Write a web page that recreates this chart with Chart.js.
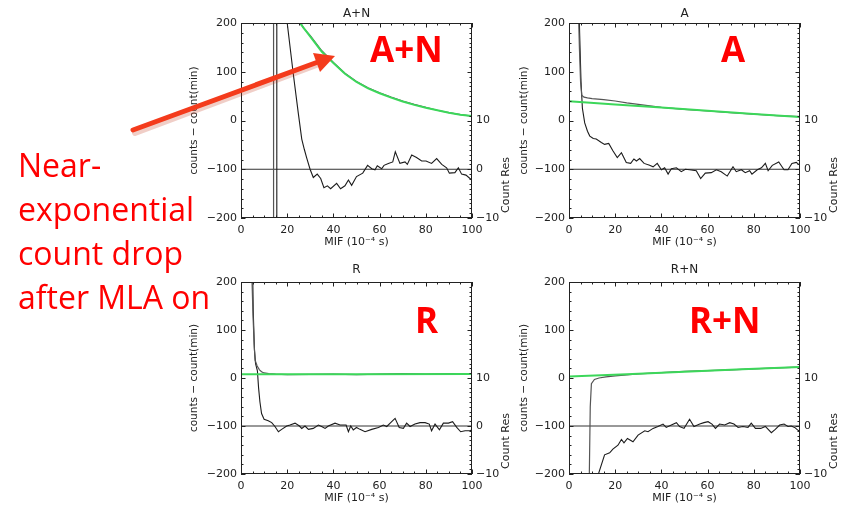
<!DOCTYPE html>
<html>
<head>
<meta charset="utf-8">
<script src="https://cdn.jsdelivr.net/npm/chart.js@4.4.1/dist/chart.umd.min.js"></script>
<style>
  body { margin: 0; background: #fff; width: 845px; height: 508px; position: relative; overflow: hidden; }
  canvas { position: absolute; }
  .note { position: absolute; left: 18px; top: 143px; color: #f00; font-family: "Open Sans", sans-serif; font-size: 32px; line-height: 44px; z-index: 5; white-space: nowrap; }
  .tag { position: absolute; color: #f00; font-family: "Open Sans", sans-serif; font-weight: 700; font-size: 35px; line-height: 35px; z-index: 5; }
  svg { position: absolute; left: 0; top: 0; z-index: 6; }
</style>
</head>
<body>
<canvas id="pAN" width="335" height="252" style="left:180px;top:0px"></canvas>
<canvas id="pA" width="337" height="252" style="left:508px;top:0px"></canvas>
<canvas id="pR" width="335" height="248" style="left:180px;top:260px"></canvas>
<canvas id="pRN" width="337" height="248" style="left:508px;top:260px"></canvas>

<div class="note">Near-<br>exponential<br>count drop<br>after MLA on</div>
<div class="tag" style="left:370px;top:31px">A+N</div>
<div class="tag" style="left:721px;top:31px">A</div>
<div class="tag" style="left:415px;top:302px">R</div>
<div class="tag" style="left:689px;top:302px">R+N</div>
<svg width="845" height="508">
  <line x1="134" y1="131" x2="318" y2="62" stroke="#c43a20" stroke-opacity="0.25" stroke-width="6" stroke-linecap="round" transform="translate(1,2)"/>
  <line x1="133" y1="130" x2="318" y2="62" stroke="#f43b1c" stroke-width="5" stroke-linecap="round"/>
  <polygon points="335,56 313,53 320,72" fill="#f43b1c"/>
</svg>

<script>
// ---------- axes ----------
const xTicks = [0, 20, 40, 60, 80, 100];
const yTicks = [-200, -100, 0, 100, 200];
const resTicks = [-10, 0, 10];
const resZeroX = [0, 100];
const resZeroY = [0, 0];

// ---------- A+N ----------
const anFitX = [24, 25.5, 30, 35, 40, 45, 50, 55, 60, 65, 70, 75, 80, 85, 90, 95, 100];
const anFitY = [215, 200, 172, 141, 118, 96, 79, 66, 56, 47, 39, 32, 26, 21, 16, 12, 9];
const anDataX = [0, 13.9, 14.1, 18, 22, 24, 25.5, 27, 30, 35, 40, 45, 50, 55, 60, 65, 70, 75, 80, 85, 90, 95, 100];
const anDataY = [-400, -400, 700, 500, 300, 228, 204, 190, 174, 143, 119, 97, 80, 67, 57, 48, 40, 33, 27, 21, 16, 12, 9];
const anResX = [0, 15.3, 15.5, 18, 20, 22.6, 24.8, 26.3, 27.4, 28.4, 29.9, 31.3, 33, 34.5, 35.9, 37.4, 38.8, 41.4, 43.1, 45, 46.5, 47.9, 50, 52.7, 54.8, 56.6, 58, 59, 60.9, 61.9, 63.8, 65.7, 66.8, 68.8, 71, 72, 73.9, 76, 78.2, 80.1, 82.5, 84.7, 86.9, 89, 90.2, 92.6, 94.1, 95.5, 97.4, 99.1, 100];
const anResY = [-40, -40, 60, 38, 30, 19.7, 11.5, 6.2, 4.1, 2.4, 0, -1.7, -1.0, -1.9, -3.8, -3.4, -4.0, -2.9, -4.0, -3.4, -2.2, -3.3, -1.5, -0.8, 0.8, 0.1, -0.1, 0.7, 0.1, 0.8, 1.2, 1.5, 3.6, 1.2, 1.5, 1.0, 2.9, 2.4, 1.7, 1.7, 1.2, 2.2, 1.0, 0.3, -0.8, -0.7, 0.3, -1.0, -1.2, -1.9, -2.0];

// ---------- A ----------
const aFitX = [0, 20, 40, 60, 80, 100];
const aFitY = [39.5, 33, 26.5, 20, 13.5, 7];
const aDataX = [3.5, 3.9, 4.5, 5.0, 5.5, 6.5, 8, 10, 15, 20, 25, 30, 35, 40, 50, 60, 70, 80, 90, 100];
const aDataY = [400, 260, 150, 80, 52, 48, 46.5, 45, 43, 40, 36, 33, 30, 27, 23, 19.5, 16, 13, 10, 8];
const aResX = [4.0, 4.6, 5.2, 5.8, 6.8, 8, 9, 10.5, 11.8, 14, 15.4, 17.2, 19, 20.9, 22.7, 24.8, 26.7, 28.1, 29.2, 30.6, 32.5, 34.9, 36.4, 38.2, 40, 41.4, 42.9, 44.3, 46.5, 48.6, 50.4, 52.2, 55.1, 57, 59, 61.6, 63.8, 65.9, 68.5, 71, 72.4, 74.6, 76.3, 78.2, 79.2, 81.5, 83.3, 85, 86.2, 88, 90.8, 93.1, 94.8, 96.5, 98.4, 99.4, 100];
const aResY = [40, 28, 18, 12.5, 9.5, 7.8, 6.8, 6.3, 6.2, 5.5, 5.1, 5.3, 3.8, 2.4, 3.4, 1.4, 1.2, 2.1, 1.7, 2.2, 1.2, 0.8, 0.5, 1.2, -0.1, 0.3, -1.0, 0.1, 0.3, -0.5, 0, -0.1, -0.3, -1.9, -0.8, -0.7, -0.1, -0.5, -1.4, 0.5, -0.5, -0.1, -0.7, -0.3, -1.0, -0.1, 0.3, 1.2, -0.3, 0.8, 1.5, -0.1, -0.1, 1.2, 1.4, 1.0, 0.9];

// ---------- R ----------
const rFitX = [0, 50, 100];
const rFitY = [8, 8, 8.3];
const rDataX = [4.0, 4.6, 5.2, 5.7, 6.1, 7, 8, 8.9, 10, 12, 15, 20, 30, 40, 50, 60, 70, 80, 90, 100];
const rDataY = [400, 230, 130, 70, 37, 25, 17, 13, 10.5, 9, 8, 7, 7.5, 8, 7, 8, 9, 8, 9, 8];
const rResX = [4.8, 5.3, 5.8, 6.3, 7.1, 7.6, 8.2, 8.9, 10, 11.8, 13.3, 14.7, 16.2, 17.6, 19.8, 21.2, 23.4, 25.3, 26.3, 27.7, 29.2, 31.3, 33.5, 34.9, 36.4, 37.8, 40.7, 42.9, 45.5, 46.5, 47.5, 48.6, 50, 51.5, 53.7, 56.6, 59.5, 61.6, 63.1, 64.8, 66.7, 68.5, 70.3, 71.7, 73.2, 75.3, 77.5, 79.7, 81.5, 82.5, 84, 85.9, 87.6, 89.8, 91.6, 93.4, 95.1, 97, 99.1, 100];
const rResY = [40, 24, 16, 13, 11.5, 8, 5, 2.6, 1.4, 1.1, 0.7, -0.1, -1.2, -0.7, 0, 0.2, 0.6, 0, -0.5, 0, -0.7, -0.5, 0.2, -0.1, -0.5, 0, 0.6, 0.2, 0.2, -1.2, 0, -0.8, -0.3, -0.7, -1.2, -0.7, -0.3, 0.2, -0.1, 0.7, 1.6, -0.3, -0.5, 0.6, -0.1, 0.4, 0.7, 0.7, 0.4, -1.0, 0.4, -0.8, 0.6, 0.6, 0.9, -0.3, -1.2, -1.0, -1.0, -0.8];

// ---------- R+N ----------
const rnFitX = [0, 25, 50, 75, 100];
const rnFitY = [3, 8, 13, 18, 23];
const rnDataX = [0, 8.6, 8.8, 9.2, 9.7, 11, 13, 16, 20, 25, 30, 40, 50, 60, 70, 80, 90, 100];
const rnDataY = [-400, -400, -200, -60, -12, -3, 0, 2.5, 4.5, 6.5, 8.5, 11, 14, 15.5, 17, 19, 21, 22.5];
const rnResX = [11.5, 12.6, 15.4, 17.6, 19, 21.2, 22.7, 23.8, 25.3, 27.7, 29.9, 32.8, 34.2, 36.4, 38.5, 40.7, 42.1, 44.3, 46.5, 47.9, 49.8, 52.2, 54.1, 56.6, 58.4, 60.2, 61.9, 63.4, 65.2, 67.4, 69.6, 71.4, 73.2, 75.3, 77.5, 78.9, 80.7, 83, 85, 87.6, 89.3, 91.2, 93.1, 94.8, 96.2, 97.7, 99.4, 100];
const rnResY = [-13, -10.2, -6.0, -5.6, -4.8, -4.0, -2.8, -3.5, -2.6, -3.3, -1.9, -1.0, -1.2, -0.5, -0.1, 0.4, -0.3, 0.2, 0.7, -0.1, -0.5, 1.4, -0.1, 0.4, 0.7, 0.9, 0.4, -0.5, 0.4, 0.2, 0.7, 0.4, -0.3, -0.1, -0.3, 0.6, -0.5, -0.5, -0.1, -1.4, -0.7, 0.2, 0.4, -0.1, 0, -0.3, -1.0, -0.8];

const ink = '#222';
const fontFam = 'DejaVu Sans';
const minus = v => String(v).replace('-', '\u2212');

function pts(xs, ys) {
    return xs.map((x, i) => ({ x: x, y: ys[i] }));
}

function series(xs, ys, axis, color, width, order) {
    return {
        data: pts(xs, ys), yAxisID: axis, showLine: true, pointRadius: 0,
        borderColor: color, borderWidth: width, order: order
    };
}

// IDL style frame: box + inward ticks on all four sides, and the right axis title
const idlFrame = {
    id: 'idlFrame',
    afterDatasetsDraw(chart) {
        const { ctx, chartArea: a, scales } = chart;
        const seg = (x1, y1, x2, y2) => { ctx.beginPath(); ctx.moveTo(x1, y1); ctx.lineTo(x2, y2); ctx.stroke(); };
        ctx.save();
        ctx.strokeStyle = ink;
        ctx.lineWidth = 1;
        ctx.strokeRect(a.left + 0.5, a.top + 0.5, a.right - a.left - 1, a.bottom - a.top - 1);

        for (let v = 0; v <= 100; v += 5) {
            const px = Math.round(scales.x.getPixelForValue(v)) + 0.5;
            const len = v % 20 === 0 ? 4.5 : 2.5;
            seg(px, a.bottom, px, a.bottom - len);
            seg(px, a.top, px, a.top + len);
        }
        for (let v = -200; v <= 200; v += 20) {
            const py = Math.round(scales.y.getPixelForValue(v)) + 0.5;
            seg(a.left, py, a.left + (v % 100 === 0 ? 4.5 : 2.5), py);
        }
        for (let v = -10; v <= 30; v += 1) {
            const py = Math.round(scales.y2.getPixelForValue(v)) + 0.5;
            seg(a.right, py, a.right - (v % 10 === 0 ? 4.5 : 2.5), py);
        }

        ctx.fillStyle = ink;
        ctx.font = '11px "' + fontFam + '"';
        ctx.textAlign = 'center';
        ctx.textBaseline = 'middle';
        ctx.translate(a.right + 34, a.bottom - 33);
        ctx.rotate(-Math.PI / 2);
        ctx.fillText('Count Res', 0, 0);
        ctx.restore();
    }
};
Chart.register(idlFrame);

function panel(id, o) {
    const tick = { family: fontFam, size: 11 };
    return new Chart(document.getElementById(id), {
        type: 'scatter',
        data: {
            datasets: [
                series(o.fitX, o.fitY, 'y', 'rgb(60,215,90)', 2, 0),
                series(o.dataX, o.dataY, 'y', '#555', 1.2, 1),
                series(o.resX, o.resY, 'y2', '#1c1c1c', 1.1, 2),
                series(resZeroX, resZeroY, 'y2', '#333', 1, 3)
            ]
        },
        options: {
            responsive: false,
            animation: false,
            events: [],
            layout: { padding: 0 },
            plugins: { legend: { display: false }, tooltip: { enabled: false } },
            scales: {
                x: {
                    type: 'linear', position: 'bottom', min: 0, max: 100,
                    afterBuildTicks: s => { s.ticks = xTicks.map(v => ({ value: v })); },
                    afterFit: s => { s.height = o.bottom; },
                    grid: { display: false, drawTicks: false }, border: { display: false },
                    ticks: { font: tick, color: ink, padding: 6, maxRotation: 0 },
                    title: { display: true, text: 'MIF (10\u207B\u2074 s)', font: tick, color: ink, padding: { top: 0, bottom: 3 } }
                },
                x2: {
                    type: 'linear', position: 'top', min: 0, max: 100,
                    afterFit: s => { s.height = o.top; },
                    grid: { display: false }, border: { display: false },
                    ticks: { display: false },
                    title: { display: true, text: o.title, font: { family: fontFam, size: 12 }, color: ink, padding: { top: o.titlePad, bottom: 0 } }
                },
                y: {
                    type: 'linear', position: 'left', min: -200, max: 200,
                    afterBuildTicks: s => { s.ticks = yTicks.map(v => ({ value: v })); },
                    afterFit: s => { s.width = o.left; },
                    grid: { display: false, drawTicks: false }, border: { display: false },
                    ticks: { font: tick, color: ink, padding: 4, callback: v => minus(v) },
                    title: { display: true, text: 'counts \u2212 count(min)', font: { family: fontFam, size: 10.5 }, color: ink, padding: { top: o.yPad, bottom: 0 } }
                },
                y2: {
                    type: 'linear', position: 'right', min: -10, max: 30,
                    afterBuildTicks: s => { s.ticks = resTicks.map(v => ({ value: v })); },
                    afterFit: s => { s.width = o.right; },
                    grid: { display: false, drawTicks: false }, border: { display: false },
                    ticks: { font: tick, color: ink, padding: 4, callback: v => minus(v) }
                }
            }
        }
    });
}

panel('pAN', { title: 'A+N', fitX: anFitX, fitY: anFitY, dataX: anDataX, dataY: anDataY, resX: anResX, resY: anResY,
    left: 61, right: 43, top: 23, bottom: 34, titlePad: 6.5, yPad: 8 });
panel('pA', { title: 'A', fitX: aFitX, fitY: aFitY, dataX: aDataX, dataY: aDataY, resX: aResX, resY: aResY,
    left: 61, right: 45, top: 23, bottom: 34, titlePad: 6.5, yPad: 10 });
panel('pR', { title: 'R', fitX: rFitX, fitY: rFitY, dataX: rDataX, dataY: rDataY, resX: rResX, resY: rResY,
    left: 61, right: 43, top: 22, bottom: 34, titlePad: 2.5, yPad: 8 });
panel('pRN', { title: 'R+N', fitX: rnFitX, fitY: rnFitY, dataX: rnDataX, dataY: rnDataY, resX: rnResX, resY: rnResY,
    left: 61, right: 45, top: 22, bottom: 34, titlePad: 2.5, yPad: 10 });
</script>
</body>
</html>
